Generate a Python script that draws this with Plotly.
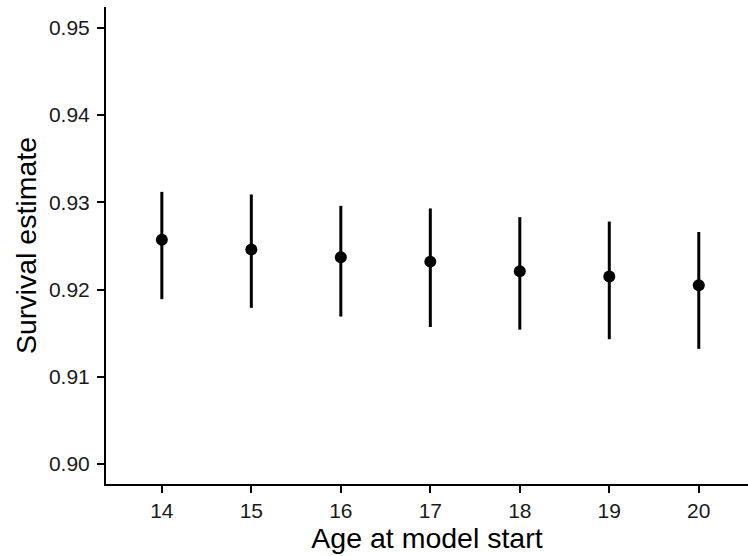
import plotly.graph_objects as go

ages = [14, 15, 16, 17, 18, 19, 20]
estimate = [0.9257, 0.9246, 0.9237, 0.9232, 0.9221, 0.9215, 0.9205]
upper = [0.9312, 0.9309, 0.9296, 0.9293, 0.9283, 0.9278, 0.9266]
lower = [0.9189, 0.9179, 0.9169, 0.9157, 0.9154, 0.9143, 0.9132]

y_ticks = [0.90, 0.91, 0.92, 0.93, 0.94, 0.95]

err_plus = [u - e for u, e in zip(upper, estimate)]
err_minus = [e - l for e, l in zip(estimate, lower)]

fig = go.Figure()
fig.add_trace(go.Scatter(
    x=ages, y=estimate, mode="markers",
    marker=dict(color="black", size=12),
    error_y=dict(type="data", symmetric=False, array=err_plus, arrayminus=err_minus,
                 color="black", thickness=3, width=0),
    showlegend=False,
))

font = "Liberation Sans, Arial, Helvetica, sans-serif"
fig.update_layout(
    width=748, height=556,
    margin=dict(l=106, r=0, t=7, b=72),
    plot_bgcolor="white", paper_bgcolor="white",
    font=dict(family=font, color="black"),
)
fig.update_xaxes(
    range=[13.376, 20.55], tickvals=ages, ticktext=[str(a) for a in ages],
    showgrid=False, zeroline=False,
    showline=True, linecolor="black", linewidth=2,
    ticks="outside", ticklen=7, tickwidth=2, tickcolor="black",
    tickfont=dict(size=21, color="#1a1a1a"),
    title=dict(text="Age at model start", font=dict(size=28.5), standoff=3),
)
fig.update_yaxes(
    range=[0.8977, 0.9524], tickvals=y_ticks, ticktext=[f"{v:.2f}" for v in y_ticks],
    showgrid=False, zeroline=False,
    showline=True, linecolor="black", linewidth=2,
    ticks="outside", ticklen=7, tickwidth=2, tickcolor="black",
    ticklabelstandoff=3,
    tickfont=dict(size=21, color="#1a1a1a"),
    title=dict(text="Survival estimate", font=dict(size=28.5), standoff=4),
)

fig.write_html("out.html")
